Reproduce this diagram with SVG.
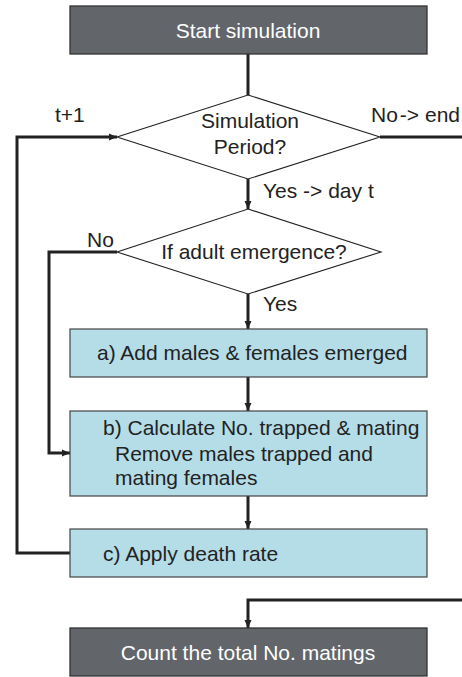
<svg xmlns="http://www.w3.org/2000/svg" width="462" height="677" viewBox="0 0 462 677">
<style>
text{font-family:"Liberation Sans",Arial,sans-serif;font-size:21px;fill:#222}
.dark rect{fill:#62666b;stroke:#333;stroke-width:1.3}
.dark text{fill:#fff}
.proc rect{fill:#b5dde8;stroke:#444;stroke-width:1.2}
.dec polygon{fill:#fff;stroke:#222;stroke-width:1.1}
.conn path{fill:none;stroke:#222;stroke-width:3}
</style>
<defs>
<marker id="ah" markerWidth="8" markerHeight="8" refX="8" refY="4" orient="auto" markerUnits="userSpaceOnUse">
<path d="M0,0.5 L8,4 L0,7.5 Z" fill="#222"/>
</marker>
</defs>
<g class="conn">
<path d="M248,54 V95"/>
<path d="M248,179 V209" marker-end="url(#ah)"/>
<path d="M248,294 V329" marker-end="url(#ah)"/>
<path d="M248,377 V411" marker-end="url(#ah)"/>
<path d="M248,496 V529" marker-end="url(#ah)"/>
<path d="M380,137 H462"/>
<path d="M462,600 H248 V628" marker-end="url(#ah)"/>
<path d="M70,553 H17 V137 H117" marker-end="url(#ah)"/>
<path d="M117,252 H49 V453 H70" marker-end="url(#ah)"/>
</g>
<g id="start" class="dark"><rect x="70" y="6" width="357" height="48"/><text x="248" y="38" text-anchor="middle">Start simulation</text></g>
<g id="period" class="dec"><polygon points="248,95 380,137 248,179 117,137"/><text x="250" y="128" text-anchor="middle">Simulation</text><text x="250" y="154" text-anchor="middle">Period?</text></g>
<g id="emerge" class="dec"><polygon points="248,209 381,252 248,294 117,252"/><text x="254" y="259" text-anchor="middle">If adult emergence?</text></g>
<g id="boxa" class="proc"><rect x="70" y="329" width="357" height="48"/><text x="97" y="360">a) Add males &amp; females emerged</text></g>
<g id="boxb" class="proc"><rect x="70" y="411" width="357" height="85"/><text x="103" y="435">b) Calculate No. trapped &amp; mating</text><text x="115" y="461">Remove males trapped and</text><text x="115" y="485">mating females</text></g>
<g id="boxc" class="proc"><rect x="70" y="529" width="357" height="48"/><text x="103" y="561">c) Apply death rate</text></g>
<g id="count" class="dark"><rect x="70" y="628" width="357" height="48"/><text x="248" y="660" text-anchor="middle">Count the total No. matings</text></g>
<g id="labels">
<text x="55" y="122">t+1</text>
<text x="371" y="122">No<tspan dx="2">-&gt; end</tspan></text>
<text x="263" y="198">Yes -&gt; day t</text>
<text x="87" y="247">No</text>
<text x="263" y="311">Yes</text>
</g>
</svg>
